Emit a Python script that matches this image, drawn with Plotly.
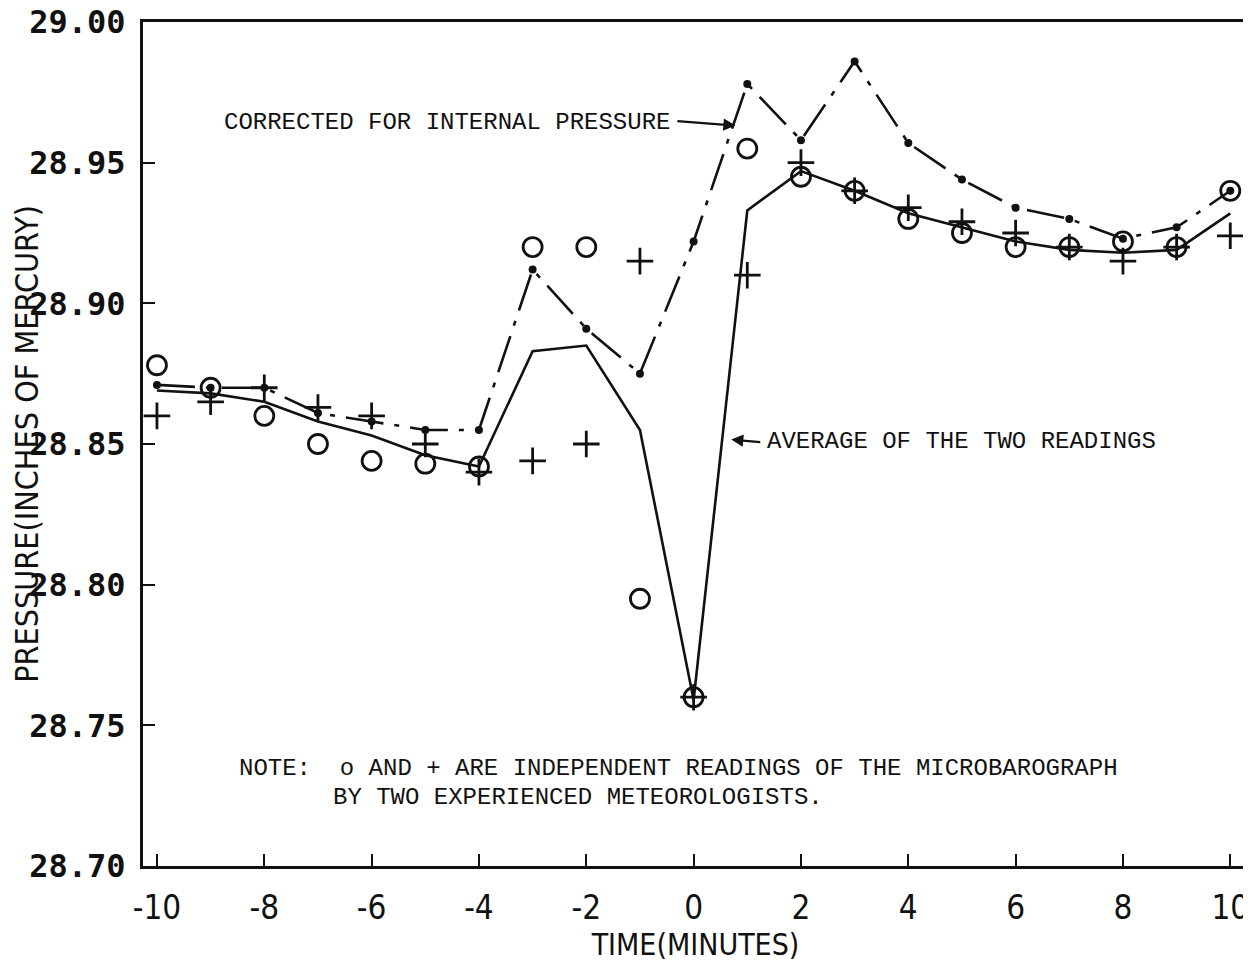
import plotly.graph_objects as go

# ---- data ----
minutes = list(range(-10, 11))
reader_o = [28.878, 28.870, 28.860, 28.850, 28.844, 28.843, 28.842, 28.920, 28.920, 28.795,
            28.760, 28.955, 28.945, 28.940, 28.930, 28.925, 28.920, 28.920, 28.922, 28.920, 28.940]
reader_plus = [28.860, 28.865, 28.870, 28.863, 28.860, 28.850, 28.840, 28.844, 28.850, 28.915,
               28.760, 28.910, 28.950, 28.940, 28.934, 28.929, 28.925, 28.920, 28.915, 28.920, 28.924]
average = [28.869, 28.868, 28.865, 28.858, 28.853, 28.846, 28.842, 28.883, 28.885, 28.855,
           28.759, 28.933, 28.947, 28.940, 28.932, 28.927, 28.922, 28.919, 28.918, 28.919, 28.932]
corrected = [28.871, 28.870, 28.870, 28.861, 28.858, 28.855, 28.855, 28.912, 28.891, 28.875,
             28.922, 28.978, 28.958, 28.986, 28.957, 28.944, 28.934, 28.930, 28.923, 28.927, 28.940]

x_ticks = [-10, -8, -6, -4, -2, 0, 2, 4, 6, 8, 10]
y_ticks = [28.70, 28.75, 28.80, 28.85, 28.90, 28.95, 29.00]

INK = "#111111"
MONO = "Liberation Mono, Courier New, monospace"
NARROW = "Liberation Sans Narrow, DejaVu Sans Condensed, Arial Narrow, sans-serif"

fig = go.Figure()

fig.add_trace(go.Scatter(x=minutes, y=average, mode="lines",
                         line=dict(color=INK, width=2.6), name="average",
                         showlegend=False))
fig.add_trace(go.Scatter(x=minutes, y=corrected, mode="lines+markers",
                         line=dict(color=INK, width=2.6, dash="38px,11px,5px,11px"),
                         marker=dict(symbol="circle", size=8, color=INK),
                         name="corrected", showlegend=False))
fig.add_trace(go.Scatter(x=minutes, y=reader_o, mode="markers",
                         marker=dict(symbol="circle-open", size=19, color=INK,
                                     line=dict(color=INK, width=2.8)),
                         name="o", showlegend=False))
fig.add_trace(go.Scatter(x=minutes, y=reader_plus, mode="markers",
                         marker=dict(symbol="cross-thin-open", size=19, color=INK,
                                     line=dict(color=INK, width=2.8)),
                         name="+", showlegend=False))

ann_font = dict(family=MONO, size=24, color=INK)
annotations = [
    dict(x=-8.794, y=28.9642, xref="x", yref="y", text="CORRECTED FOR INTERNAL PRESSURE",
         showarrow=False, xanchor="left", yanchor="middle", font=ann_font),
    dict(x=0.78, y=28.9632, ax=-0.33, ay=28.9648, xref="x", yref="y", axref="x", ayref="y",
         text="", showarrow=True, arrowhead=2, arrowsize=1.1, arrowwidth=2.2, arrowcolor=INK),
    dict(x=1.336, y=28.8508, xref="x", yref="y", text="AVERAGE OF THE TWO READINGS",
         showarrow=False, xanchor="left", yanchor="middle", font=ann_font),
    dict(x=0.70, y=28.8516, ax=1.27, ay=28.8506, xref="x", yref="y", axref="x", ayref="y",
         text="", showarrow=True, arrowhead=2, arrowsize=1.1, arrowwidth=2.2, arrowcolor=INK),
    dict(x=-8.516, y=28.7345, xref="x", yref="y",
         text="NOTE:\u00a0\u00a0o AND + ARE INDEPENDENT READINGS OF THE MICROBAROGRAPH",
         showarrow=False, xanchor="left", yanchor="middle", font=ann_font),
    dict(x=-6.753, y=28.7243, xref="x", yref="y",
         text="BY TWO EXPERIENCED METEOROLOGISTS.",
         showarrow=False, xanchor="left", yanchor="middle", font=ann_font),
]

# page body adds an 8px offset, so the figure is 8px smaller than the window
fig.update_layout(
    width=1243, height=963,
    margin=dict(l=135, r=3, t=14, b=105),
    paper_bgcolor="white", plot_bgcolor="white",
    annotations=annotations,
    showlegend=False,
)

fig.update_xaxes(
    range=[-10.26, 10.33], tickvals=x_ticks, ticktext=[str(v) for v in x_ticks],
    showgrid=False, zeroline=False, automargin=False,
    showline=True, linecolor=INK, linewidth=3, mirror=True,
    ticks="inside", ticklen=12, tickwidth=2, tickcolor=INK,
    tickfont=dict(family=NARROW, size=33, color=INK),
    ticklabelstandoff=10, ticklabeloverflow="allow",
    title=dict(text="TIME(MINUTES)", font=dict(family=NARROW, size=30, color=INK), standoff=6),
)
fig.update_yaxes(
    range=[28.70, 29.00], tickvals=y_ticks, ticktext=[f"{v:.2f}" for v in y_ticks],
    showgrid=False, zeroline=False, automargin=False,
    showline=True, linecolor=INK, linewidth=3, mirror=True,
    ticks="inside", ticklen=12, tickwidth=2, tickcolor=INK,
    tickfont=dict(family="DejaVu Sans Mono", size=32, color=INK, weight="bold"),
    ticklabelstandoff=8, ticklabeloverflow="allow",
    title=dict(text="PRESSURE(INCHES OF MERCURY)", font=dict(family=NARROW, size=32, color=INK), standoff=2),
)

fig.write_html("out.html")
